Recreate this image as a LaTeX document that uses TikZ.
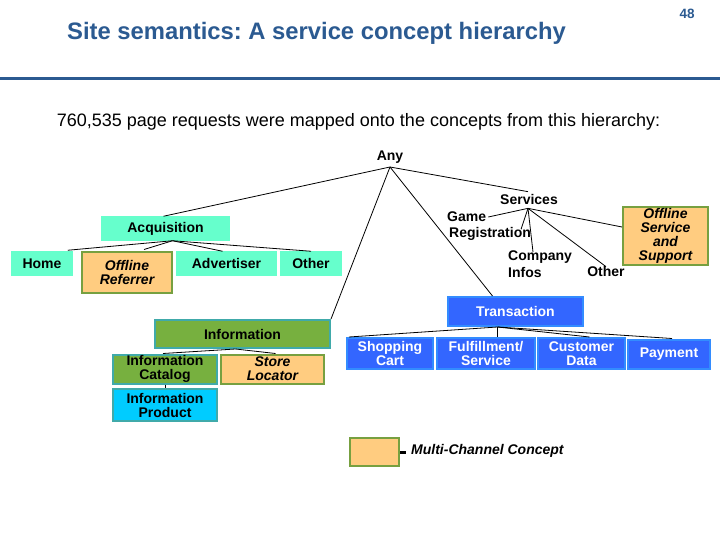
\documentclass[tikz,border=0pt]{standalone}
\usepackage{fontspec}
\setmainfont{Liberation Sans}
\frenchspacing
\definecolor{titleblue}{RGB}{43,90,145}
\definecolor{aqua}{RGB}{102,255,204}
\definecolor{mcfill}{RGB}{255,204,128}
\definecolor{mcborder}{RGB}{119,160,64}
\definecolor{infogreen}{RGB}{119,176,63}
\definecolor{tealb}{RGB}{64,170,170}
\definecolor{prodcyan}{RGB}{0,204,255}
\definecolor{tblue}{RGB}{51,102,255}
\definecolor{tborder}{RGB}{51,140,255}
\begin{document}
\begin{tikzpicture}[x=1pt,y=-1pt,
  lbl/.style={font=\fontsize{14}{14}\selectfont\bfseries, align=center, inner sep=0pt},
  aq/.style={lbl, fill=aqua, draw=aqua, line width=1.5pt},
  mc/.style={lbl, fill=mcfill, draw=mcborder, line width=2pt, font=\fontsize{14}{14}\selectfont\bfseries\itshape},
  inf/.style={lbl, fill=infogreen, draw=tealb, line width=2pt},
  prod/.style={lbl, fill=prodcyan, draw=tealb, line width=2pt},
  tr/.style={lbl, fill=tblue, draw=tborder, line width=2pt, text=white},
  con/.style={draw=black, line width=0.8pt}]
\useasboundingbox[fill=white] (0,0) rectangle (720,540);
% header
\node[anchor=west, inner sep=0pt, text=titleblue, font=\fontsize{23.8}{26}\selectfont\bfseries] (title) at (67,33) {Site semantics: A service concept hierarchy};
\node[inner sep=0pt, text=titleblue, font=\fontsize{13.5}{15}\selectfont\bfseries] (pg) at (687,14) {48};
\draw[titleblue, line width=3pt] (0,78.5) -- (720,78.5);
\node[inner sep=0pt, font=\fontsize{18}{20}\selectfont] (sub) at (358.5,122) {760,535 page requests were mapped onto the concepts from this hierarchy:};
% root
\node[lbl] (any) at (390,157) {Any};
\coordinate (anyb) at (390,167);
% acquisition
\node[aq, minimum width=127pt, minimum height=23pt] (acq) at (165.5,228.5) {Acquisition};
\node[aq, minimum width=60pt, minimum height=23pt] (home) at (42,263.5) {Home};
\node[mc, minimum width=90pt, minimum height=41pt] (offref) at (127,272) {Offline\\Referrer};
\node[aq, minimum width=99pt, minimum height=23pt] (adv) at (226.5,263.5) {Advertiser};
\node[aq, minimum width=60pt, minimum height=23pt] (othera) at (311,263.5) {Other};
% services
\node[lbl] (serv) at (529,199) {Services};
\node[lbl, anchor=west] (game) at (447,217) {Game};
\node[lbl, anchor=west] (reg) at (449,234) {Registration};
\node[lbl, anchor=north west, align=left, font=\fontsize{14}{17}\selectfont\bfseries] (comp) at (508,251) {Company\\Infos};
\node[lbl] (others) at (606,271) {Other};
\node[mc, minimum width=85pt, minimum height=58pt] (offserv) at (665.5,236) {Offline\\Service\\and\\Support};
% information
\node[inf, minimum width=175pt, minimum height=28pt] (info) at (242.5,334) {Information};
\node[inf, minimum width=104pt, minimum height=29pt] (infocat) at (165,369) {Information\\Catalog};
\node[mc, minimum width=103pt, minimum height=29pt] (store) at (272.5,369) {Store\\Locator};
\node[prod, minimum width=104pt, minimum height=32pt] (infoprod) at (165,405) {Information\\Product};
% transaction
\node[tr, minimum width=135pt, minimum height=29pt] (trans) at (515.5,311.5) {Transaction};
\node[tr, minimum width=86pt, minimum height=31pt] (shop) at (390,353.5) {Shopping\\Cart};
\node[tr, minimum width=98pt, minimum height=31pt] (fulf) at (486,353.5) {Fulfillment/\\Service};
\node[tr, minimum width=87pt, minimum height=31pt] (cust) at (581.5,353.5) {Customer\\Data};
\node[tr, minimum width=82pt, minimum height=29pt] (pay) at (669,354) {Payment};
% legend
\node[mc, minimum width=49pt, minimum height=28pt] (leg) at (374.5,452) {};
\coordinate (legd) at (406,452);
\node[lbl, anchor=west, font=\fontsize{14}{14}\selectfont\bfseries\itshape] (legt) at (411,451) {Multi-Channel Concept};
% connectors from root
\draw[con] (anyb) -- ([xshift=-2pt]acq.north);
\draw[con] (anyb) -- ([xshift=-1pt,yshift=2pt]serv.north);
\draw[con] (anyb) -- (info.north east);
\draw[con] (anyb) -- ([xshift=-23pt]trans.north);
% acquisition children
\coordinate (acqb) at ([xshift=7pt]acq.south);
\draw[con] (acqb) -- ([xshift=-5pt,yshift=1pt]home.north east);
\draw[con] (acqb) -- ([xshift=17pt,yshift=1pt]offref.north);
\draw[con] (acqb) -- ([xshift=-4pt]adv.north);
\draw[con] (acqb) -- (othera.north);
% services children
\coordinate (servb) at ([xshift=-1pt,yshift=-4pt]serv.south);
\draw[con] (servb) -- ([xshift=2pt]game.east);
\draw[con] (servb) -- ([xshift=-10pt,yshift=-2pt]reg.north east);
\draw[con] (servb) -- ([xshift=25pt,yshift=-1pt]comp.north west);
\draw[con] (servb) -- ([yshift=-1pt]others.north);
\draw[con] (servb) -- ([yshift=9pt]offserv.west);
% information children
\coordinate (infob) at ([xshift=-7pt]info.south);
\draw[con] (infob) -- ([xshift=-2pt]infocat.north);
\draw[con] (infob) -- ([xshift=3pt]store.north);
\draw[con] (infocat.south) -- (infoprod.north);
% transaction children
\coordinate (transb) at ([xshift=-18pt]trans.south);
\draw[con] (transb) -- ([xshift=3pt]shop.north west);
\draw[con] (transb) -- (transb |- fulf.north);
\draw[con] (transb) -- ([xshift=8pt]cust.north);
\draw[con] (transb) -- ([xshift=3pt]pay.north);
% legend dash
\draw[black, line width=3pt] (leg.east) -- (legd);
\end{tikzpicture}
\end{document}
